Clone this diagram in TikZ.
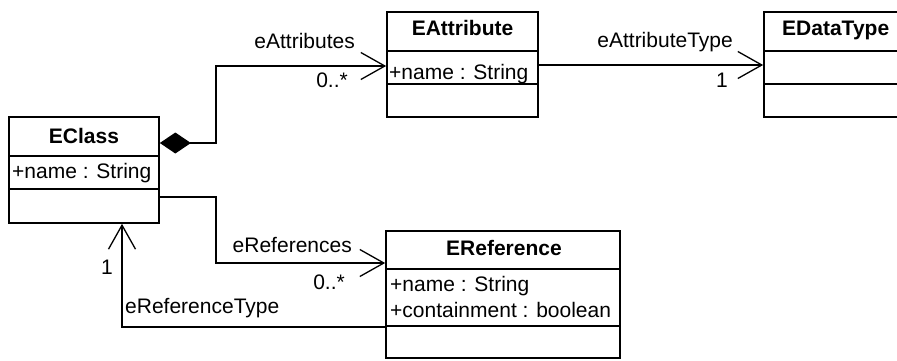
\documentclass[tikz,border=0pt]{standalone}
\usepackage{fontspec}
\setmainfont{Liberation Sans}
\usetikzlibrary{arrows.meta,calc}
\begin{document}
\begin{tikzpicture}[x=1pt,y=-1pt,
  font=\fontsize{21}{25}\selectfont,
  classbox/.style={draw, line width=1.7pt, inner sep=0pt, fill=white},
  divider/.style={line width=1.7pt},
  conn/.style={line width=1.3pt},
  nav/.style={-{Straight Barb[length=24pt 0,width=27pt 0]}},
  comp/.style={{Diamond[length=31pt 0,width=21pt 0]}-{Straight Barb[length=24pt 0,width=27pt 0]}},
  title/.style={font=\fontsize{21}{25}\selectfont\bfseries, anchor=base, inner sep=0pt},
  attr/.style={anchor=base west, inner sep=0pt},
  role/.style={inner sep=0pt}]

\clip (0,0) rectangle (897,360);
\fill[white] (0,0) rectangle (897,360);

% class boxes
\node[classbox, minimum width=150pt, minimum height=106pt] (eclass) at (84,170) {};
\node[classbox, minimum width=151pt, minimum height=105pt] (eattr) at (462.5,64.5) {};
\node[classbox, minimum width=160pt, minimum height=105pt] (edata) at (844,64.5) {};
\node[classbox, minimum width=234pt, minimum height=127pt] (eref) at (503,294.5) {};

% compartment dividers
\draw[divider] (eclass.west |- 0,156) -- (eclass.east |- 0,156);
\draw[divider] (eclass.west |- 0,189) -- (eclass.east |- 0,189);
\draw[divider] (eattr.west |- 0,51) -- (eattr.east |- 0,51);
\draw[divider] (eattr.west |- 0,84) -- (eattr.east |- 0,84);
\draw[divider] (edata.west |- 0,51) -- (edata.east |- 0,51);
\draw[divider] (edata.west |- 0,84) -- (edata.east |- 0,84);
\draw[divider] (eref.west |- 0,269) -- (eref.east |- 0,269);
\draw[divider] (eref.west |- 0,326) -- (eref.east |- 0,326);

% class names and attributes
\node[title] (tclass) at (84,143) {EClass};
\node[attr] (aclass) at (12,178) {+name : String};
\node[title] (tattr) at (462.5,35) {EAttribute};
\node[attr] (aattr) at (389,79) {+name : String};
\node[title, anchor=base west] (tdata) at (782,35) {EDataType};
\node[title] (tref) at (504,255) {EReference};
\node[attr] (aref1) at (390,291) {+name : String};
\node[attr] (aref2) at (390,317) {+containment : boolean};

% associations
\draw[conn, comp] (eclass.east |- 0,143) -- (216,143) -- (216,66) -- (eattr.west |- 0,66);
\draw[conn, nav] (eattr.east |- 0,65) -- (edata.west |- 0,65);
\draw[conn, nav] (eclass.east |- 0,197) -- (216,197) -- (216,263) -- (eref.west |- 0,263);
\draw[conn, nav] (eref.west |- 0,327) -- (122,327) -- (eclass.south -| 122,0);

% role names and multiplicities
\node[role, anchor=base east] (l1) at (355,48) {eAttributes};
\node[role, anchor=base east] (m1) at (348,87) {0..*};
\node[role, anchor=base east] (l2) at (733,47) {eAttributeType};
\node[role, anchor=base east] (m2) at (728,87) {1};
\node[role, anchor=base east] (l3) at (352,252) {eReferences};
\node[role, anchor=base east] (m3) at (345,289) {0..*};
\node[role, anchor=base east] (m4) at (113,274) {1};
\node[role, anchor=base west] (l4) at (125,313) {eReferenceType};
\end{tikzpicture}
\end{document}
